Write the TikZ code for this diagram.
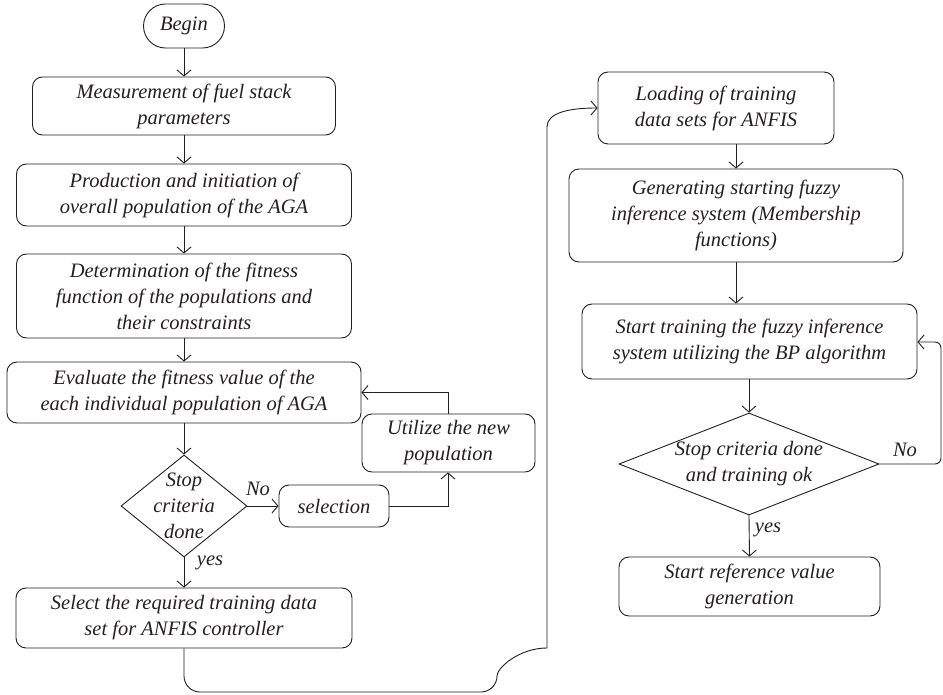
\documentclass[tikz,border=0pt]{standalone}
\usepackage{fontspec}
\setmainfont{Liberation Serif}
\usetikzlibrary{arrows.meta,shapes.geometric,calc}
\begin{document}
\begin{tikzpicture}[x=1pt,y=1pt,
  line width=0.9pt, draw={rgb,255:red,35;green,31;blue,32},
  >={Straight Barb[length=6pt,width=14pt]},
  txt/.style={font=\itshape\fontsize{20.5}{26}\selectfont, text={rgb,255:red,35;green,31;blue,32}, align=center, inner sep=0pt},
  box/.style={txt, draw, rounded corners=10pt},
  dia/.style={draw, diamond, inner sep=0pt},
  lab/.style={txt}]
\useasboundingbox (0,0) rectangle (943,-695);
% left column
\node[box, rounded corners=22pt, minimum width=81pt, minimum height=44pt] (begin) at (184,-26) {Begin};
\node[box, minimum width=303pt, minimum height=58pt] (b1) at (184,-106) {Measurement of fuel stack\\parameters};
\node[box, minimum width=335pt, minimum height=62pt] (b2) at (184,-195) {Production and initiation of\\overall population of the AGA};
\node[box, minimum width=335pt, minimum height=84pt] (b3) at (184,-296) {Determination of the fitness\\function of the populations and\\their constraints};
\node[box, minimum width=354pt, minimum height=61pt] (b4) at (184,-392.5) {Evaluate the fitness value of the\\each individual population of AGA};
\node[dia, minimum width=126pt, minimum height=102pt] (d1) at (184,-506) {};
\node[txt] (d1t) at (184,-506) {Stop\\criteria\\done};
\node[box, minimum width=110pt, minimum height=42pt] (sel) at (334,-506) {selection};
\node[box, minimum width=173pt, minimum height=58pt] (util) at (448.5,-443) {Utilize the new\\population};
\node[box, minimum width=336pt, minimum height=60pt] (select) at (184,-618) {Select the required training data\\set for ANFIS controller};
% right column
\node[box, minimum width=236pt, minimum height=72pt] (load) at (716,-108) {Loading of training\\data sets for ANFIS};
\node[box, minimum width=334pt, minimum height=93pt] (gen) at (736,-215.5) {Generating starting fuzzy\\inference system (Membership\\functions)};
\node[box, minimum width=335pt, minimum height=75pt] (train) at (749.5,-341.5) {Start training the fuzzy inference\\system utilizing the BP algorithm};
\node[dia, minimum width=260pt, minimum height=102pt] (d2) at (749,-464) {};
\node[txt] (d2t) at (749,-464) {Stop criteria done\\and training ok};
\node[box, minimum width=261pt, minimum height=59pt] (final) at (749.5,-586.5) {Start reference value\\generation};
% labels
\node[lab] (no1) at (258,-489) {No};
\node[lab] (yes1) at (210,-563) {yes};
\node[lab] (no2) at (905,-450) {No};
\node[lab] (yes2) at (768,-530) {yes};
% helper coordinates
\coordinate (c1) at (448,-506);
\coordinate (c2) at (448,-392.5);
\coordinate (c3) at (184,-692);
\coordinate (c4) at (497,-692);
\coordinate (c5) at (547,-127);
\coordinate (c6) at (941,-464);
\coordinate (c7) at (941,-342);
% connectors left
\draw[->] (begin) -- (b1);
\draw[->] (b1) -- (b2);
\draw[->] (b2) -- (b3);
\draw[->] (b3) -- (b4);
\draw[->] (b4.south) -- (d1.north);
\draw[->] (d1.south) -- (select.north);
\draw[->] (d1.east) -- (sel.west);
\draw[->] (sel.east) -- (c1) -- (c1 |- util.south);
\draw[->] (c1 |- util.north) -- (c2) -- (b4.east |- c2);
% long connector
\draw[->] (select.south) [rounded corners=16pt] -- (c3) -- (c4) [sharp corners]
  arc[start angle=180, end angle=90, x radius=50pt, y radius=44pt]
  -- (c5) .. controls (547,-113) and (568,-108) .. (load.west);
% connectors right
\draw[->] (load.south -| gen.north) -- (gen.north);
\draw[->] (gen.south) -- (gen.south |- train.north);
\draw[->] (train.south -| d2.north) -- (d2.north);
\draw[->] (d2.south) -- (final.north);
\draw[->, rounded corners=6pt] (d2.east) -- (c6) -- (c7) -- (train.east |- c7);
\end{tikzpicture}
\end{document}
